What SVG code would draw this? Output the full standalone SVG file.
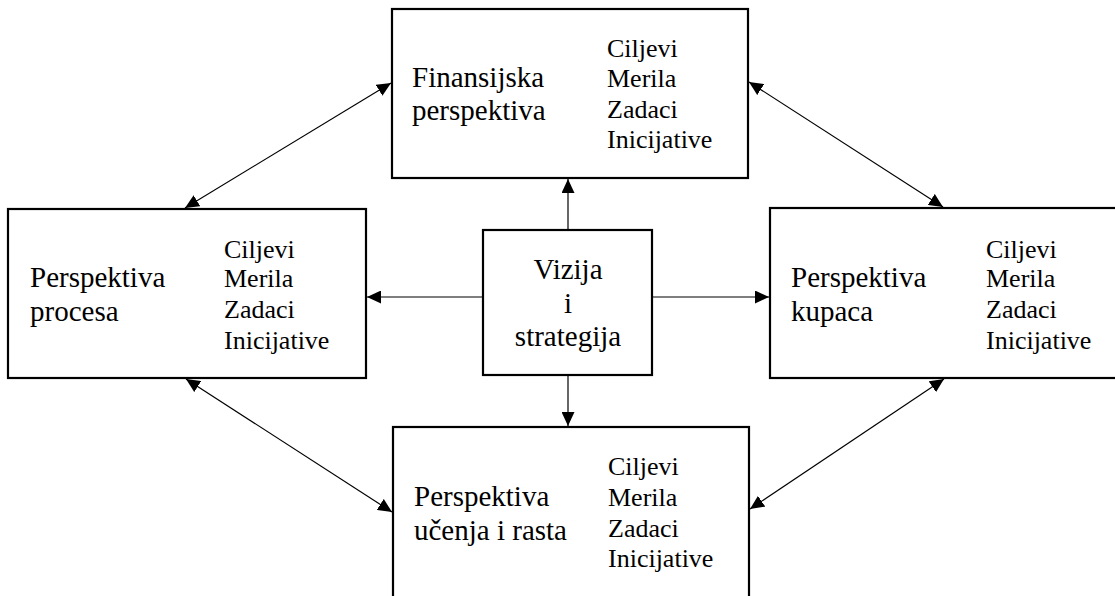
<svg xmlns="http://www.w3.org/2000/svg" width="1115" height="596" viewBox="0 0 1115 596">
  <style>
    .box { fill: #fff; stroke: #000; stroke-width: 2.2; }
    text { font-family: 'Liberation Serif', 'Times New Roman', Times, 'DejaVu Serif', serif; fill: #000; }
    .lbl { font-size: 29px; }
    .lst { font-size: 26px; }
    .mid { text-anchor: middle; }
    .link { stroke: #000; stroke-width: 1.2; fill: none; }
    .one { marker-end: url(#tip); }
    .two { marker-start: url(#tip); marker-end: url(#tip); }
  </style>
  <defs>
    <marker id="tip" markerUnits="userSpaceOnUse" markerWidth="14" markerHeight="13" refX="14" refY="6.5" orient="auto-start-reverse">
      <path d="M0,0 L14,6.5 L0,13 z" fill="#000"/>
    </marker>
  </defs>
  <rect width="1115" height="596" fill="#fff"/>

  <!-- arrows between the boxes -->
  <g id="connectors">
    <line class="link one" x1="568" y1="230" x2="568" y2="179"/>
    <line class="link one" x1="568" y1="375" x2="568" y2="426"/>
    <line class="link one" x1="483" y1="297" x2="367" y2="297"/>
    <line class="link one" x1="652" y1="297" x2="769" y2="297"/>
    <line class="link two" x1="185" y1="208" x2="391" y2="83"/>
    <line class="link two" x1="749" y1="82" x2="943" y2="207"/>
    <line class="link two" x1="186" y1="379" x2="392" y2="512"/>
    <line class="link two" x1="944" y1="379" x2="750" y2="509"/>
  </g>

  <g id="finansijska">
    <rect class="box" x="392" y="9" width="356" height="169"/>
    <text class="lbl" x="412" y="87" font-family="Liberation Serif">Finansijska</text>
    <text class="lbl" x="412" y="120" font-family="Liberation Serif">perspektiva</text>
    <text class="lst" x="607" y="57">Ciljevi</text>
    <text class="lst" x="607" y="87">Merila</text>
    <text class="lst" x="607" y="118">Zadaci</text>
    <text class="lst" x="607" y="148">Inicijative</text>
  </g>

  <g id="procesa">
    <rect class="box" x="8" y="209" width="358" height="169"/>
    <text class="lbl" x="30" y="287">Perspektiva</text>
    <text class="lbl" x="30" y="321">procesa</text>
    <text class="lst" x="224" y="258">Ciljevi</text>
    <text class="lst" x="224" y="287">Merila</text>
    <text class="lst" x="224" y="318">Zadaci</text>
    <text class="lst" x="224" y="349">Inicijative</text>
  </g>

  <g id="vizija">
    <rect class="box" x="483" y="230" width="169" height="145"/>
    <text class="lbl mid" x="568" y="279">Vizija</text>
    <text class="lbl mid" x="568" y="313">i</text>
    <text class="lbl mid" x="568" y="346">strategija</text>
  </g>

  <g id="kupaca">
    <rect class="box" x="770" y="208" width="360" height="170"/>
    <text class="lbl" x="791" y="287">Perspektiva</text>
    <text class="lbl" x="791" y="321">kupaca</text>
    <text class="lst" x="986" y="258">Ciljevi</text>
    <text class="lst" x="986" y="287">Merila</text>
    <text class="lst" x="986" y="318">Zadaci</text>
    <text class="lst" x="986" y="349">Inicijative</text>
  </g>

  <g id="ucenja">
    <rect class="box" x="393" y="427" width="356" height="180"/>
    <text class="lbl" x="414" y="506">Perspektiva</text>
    <text class="lbl" x="414" y="540">učenja i rasta</text>
    <text class="lst" x="608" y="475">Ciljevi</text>
    <text class="lst" x="608" y="506">Merila</text>
    <text class="lst" x="608" y="537">Zadaci</text>
    <text class="lst" x="608" y="567">Inicijative</text>
  </g>
</svg>
